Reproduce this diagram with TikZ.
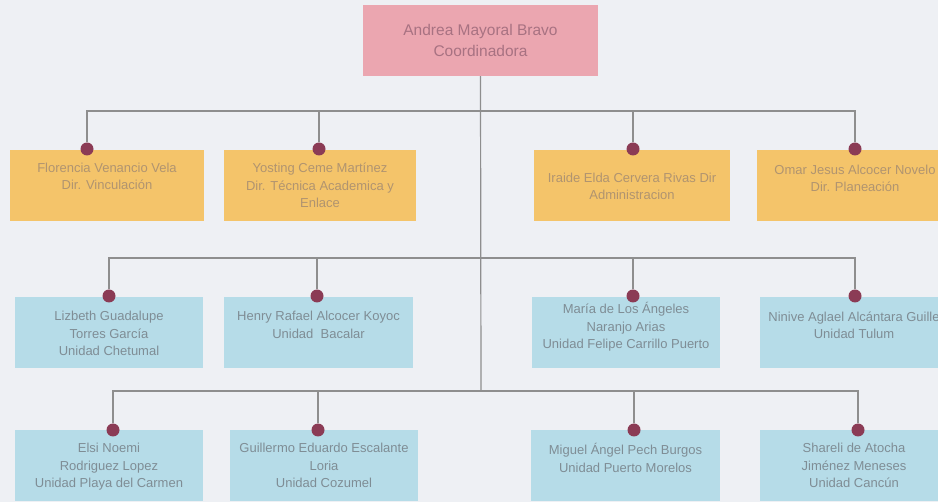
\documentclass[tikz,border=0pt]{standalone}
\usepackage{fontspec}
\setmainfont{Liberation Sans}

\definecolor{bgcol}{HTML}{EEF0F4}
\definecolor{headcol}{HTML}{EBA6B0}
\definecolor{dircol}{HTML}{F4C46A}
\definecolor{unitcol}{HTML}{B6DCE8}
\definecolor{knobcol}{HTML}{8B3B55}
\definecolor{linecol}{HTML}{8E8E8E}
\definecolor{headtxt}{HTML}{A87282}
\definecolor{dirtxt}{HTML}{B09470}
\definecolor{unittxt}{HTML}{7F8D95}

\tikzset{
  conn/.style={draw=linecol, line width=1.2pt},
  box/.style={rectangle, inner sep=0pt, minimum height=71pt},
  head/.style={box, fill=headcol, text=headtxt, minimum width=235pt,
    align=center, font=\fontsize{15.5}{21}\selectfont},
  dirbox/.style={box, fill=dircol},
  unitbox/.style={box, fill=unitcol},
  txt/.style={anchor=north, inner sep=0pt, align=center,
    font=\fontsize{13}{17.5}\selectfont},
  knob/.style={circle, fill=knobcol, inner sep=0pt, minimum size=13pt}
}

\begin{document}
\begin{tikzpicture}[x=1pt, y=-1pt]
  \fill[bgcol] (0,0) rectangle (938,502);
  \useasboundingbox (0,0) rectangle (938,502);
  \clip (0,0) rectangle (938,502);

  % coordinadora
  \node[head] (top) at (480.5,40.5) {Andrea Mayoral Bravo\\Coordinadora};

  % direcciones
  \node[dirbox, minimum width=194pt] (o1) at (107,185.5) {};
  \node[dirbox, minimum width=192pt] (o2) at (320,185.5) {};
  \node[dirbox, minimum width=196pt] (o3) at (632,185.5) {};
  \node[dirbox, minimum width=196pt] (o4) at (855,185.5) {};
  \node[txt, text=dirtxt] (t11) at ([yshift=-13pt]o1.north) {Florencia Venancio Vela\\Dir. Vinculación};
  \node[txt, text=dirtxt] (t12) at ([yshift=-13pt]o2.north) {Yosting Ceme Martínez\\Dir. Técnica Academica y\\Enlace};
  \node[txt, text=dirtxt] (t13) at ([yshift=-23pt]o3.north) {Iraide Elda Cervera Rivas Dir\\Administracion};
  \node[txt, text=dirtxt] (t14) at ([yshift=-15pt]o4.north) {Omar Jesus Alcocer Novelo\\Dir. Planeación};

  % unidades
  \node[unitbox, minimum width=188pt] (u1) at (109,333) {};
  \node[unitbox, minimum width=189pt] (u2) at (318.5,333) {};
  \node[unitbox, minimum width=188pt] (u3) at (626,333) {};
  \node[unitbox, minimum width=188pt] (u4) at (854,333) {};
  \node[txt, text=unittxt] (t21) at ([yshift=-14pt]u1.north) {Lizbeth Guadalupe\\Torres García\\Unidad Chetumal};
  \node[txt, text=unittxt] (t22) at ([yshift=-14pt]u2.north) {Henry Rafael Alcocer Koyoc\\Unidad\ \ Bacalar};
  \node[txt, text=unittxt] (t23) at ([yshift=-5pt]u3.north) {María de Los Ángeles\\Naranjo Arias\\Unidad Felipe Carrillo Puerto};
  \node[txt, text=unittxt] (t24) at ([yshift=-14pt]u4.north) {Ninive Aglael Alcántara Guille\\Unidad Tulum};

  \node[unitbox, minimum width=188pt] (v1) at (109,466) {};
  \node[unitbox, minimum width=188pt] (v2) at (324,466) {};
  \node[unitbox, minimum width=189pt] (v3) at (625.5,466) {};
  \node[unitbox, minimum width=188pt] (v4) at (854,466) {};
  \node[txt, text=unittxt] (t31) at ([yshift=-13pt]v1.north) {Elsi Noemi\\Rodriguez Lopez\\Unidad Playa del Carmen};
  \node[txt, text=unittxt] (t32) at ([yshift=-13pt]v2.north) {Guillermo Eduardo Escalante\\Loria\\Unidad Cozumel};
  \node[txt, text=unittxt] (t33) at ([yshift=-13pt]v3.north) {Miguel Ángel Pech Burgos\\Unidad Puerto Morelos};
  \node[txt, text=unittxt] (t34) at ([yshift=-13pt]v4.north) {Shareli de Atocha\\Jiménez Meneses\\Unidad Cancún};

  % puntos de enlace
  \node[knob] (k11) at (87,149) {};
  \node[knob] (k12) at (319,149) {};
  \node[knob] (k13) at (633,149) {};
  \node[knob] (k14) at (855,149) {};
  \node[knob] (k21) at (109,296) {};
  \node[knob] (k22) at (317,296) {};
  \node[knob] (k23) at (633,296) {};
  \node[knob] (k24) at (855,296) {};
  \node[knob] (k31) at (113,430) {};
  \node[knob] (k32) at (318,430) {};
  \node[knob] (k33) at (634,430) {};
  \node[knob] (k34) at (858,430) {};

  \coordinate (bus1) at (481,111);
  \coordinate (bus2) at (481,258);
  \coordinate (bus3) at (481,391);

  \draw[conn] (top.south) -- (bus3);
  \draw[conn] (k11) |- (bus1) -| (k14);
  \draw[conn] (k12) |- (bus1);
  \draw[conn] (k13) |- (bus1);
  \draw[conn] (k21) |- (bus2) -| (k24);
  \draw[conn] (k22) |- (bus2);
  \draw[conn] (k23) |- (bus2);
  \draw[conn] (k31) |- (bus3) -| (k34);
  \draw[conn] (k32) |- (bus3);
  \draw[conn] (k33) |- (bus3);
\end{tikzpicture}
\end{document}
